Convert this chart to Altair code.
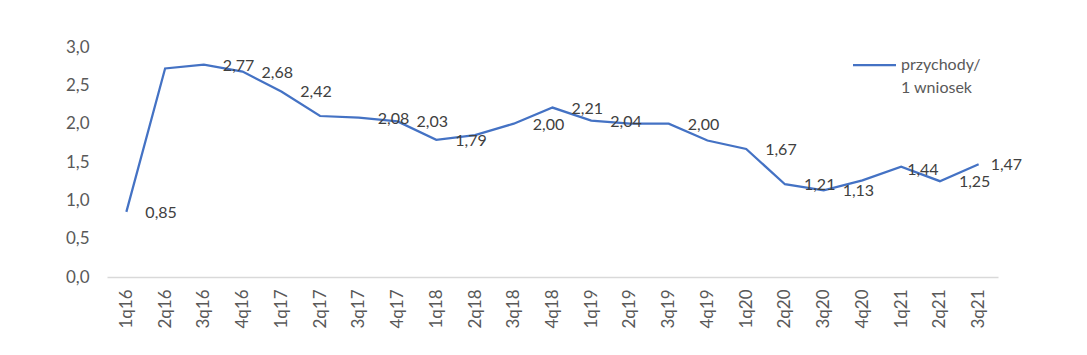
import altair as alt
import pandas as pd

quarters = ["1q16", "2q16", "3q16", "4q16", "1q17", "2q17", "3q17", "4q17",
            "1q18", "2q18", "3q18", "4q18", "1q19", "2q19", "3q19", "4q19",
            "1q20", "2q20", "3q20", "4q20", "1q21", "2q21", "3q21"]
values = [0.85, 2.72, 2.77, 2.68, 2.42, 2.10, 2.08, 2.03,
          1.79, 1.85, 2.00, 2.21, 2.04, 2.00, 2.00, 1.78,
          1.67, 1.21, 1.13, 1.26, 1.44, 1.25, 1.47]
# which points carry a data label, and how far right it sits
label_group = ["std", "", "std", "std", "std", "", "std", "std",
               "std", "", "std", "std", "std", "", "std", "",
               "std", "std", "std", "", "near", "std", "mid"]
y_ticks = [0.0, 0.5, 1.0, 1.5, 2.0, 2.5, 3.0]
legend_lines = ["przychody/", "1 wniosek"]

df = pd.DataFrame({"q": quarters, "v": values, "g": label_group})
df["lab"] = [f"{v:.2f}".replace(".", ",") for v in values]

FONT = "Lato"
LINE_COLOR = "#4472C4"

x_axis = alt.Axis(labelAngle=-90, ticks=False, grid=False,
                  domainColor="#d9d9d9", domainWidth=1.5,
                  labelColor="#595959", labelFont=FONT, labelFontSize=17,
                  labelPadding=12, labelOverlap=False)
y_axis = alt.Axis(values=y_ticks, tickCount=7, domain=False,
                  ticks=False, grid=False, labelColor="#595959",
                  labelFont=FONT, labelFontSize=17, labelPadding=18,
                  labelOverlap=False, labelFlush=False,
                  labelExpr="replace(format(datum.value, '.1f'), '.', ',')")
y_scale = alt.Scale(domain=[0, 3], nice=False, zero=True)

def X():
    return alt.X("q:N", sort=quarters, title=None, axis=x_axis)

def Y():
    return alt.Y("v:Q", title=None, scale=y_scale, axis=y_axis)

base = alt.Chart(df)
line = base.mark_line(color=LINE_COLOR, strokeWidth=2.25).encode(x=X(), y=Y())

def labels(group, dx, dy):
    return base.transform_filter(alt.datum.g == group).mark_text(
        align="left", baseline="middle", dx=dx, dy=dy,
        font=FONT, fontSize=16, color="#404040"
    ).encode(x=X(), y=Y(), text="lab:N")

t_std = labels("std", 19, 1)
t_near = labels("near", 6, 3)
t_mid = labels("mid", 12, 1)

leg_df = pd.DataFrame({"t": [legend_lines]})
leg_rule = alt.Chart(leg_df).mark_rule(color=LINE_COLOR, strokeWidth=2.25).encode(
    x=alt.value(746), x2=alt.value(789), y=alt.value(18))
leg_text = alt.Chart(leg_df).mark_text(
    align="left", baseline="middle", font=FONT, fontSize=16, color="#595959",
    lineHeight=22.5
).encode(x=alt.value(794), y=alt.value(18), text=alt.value(legend_lines))

chart = alt.layer(line, t_std, t_near, t_mid, leg_rule, leg_text).properties(
    width=891, height=230,
    autosize=alt.AutoSizeParams(type="none"),
    padding={"left": 107, "top": 47, "right": 89, "bottom": 78},
    background="white",
).configure_view(stroke=None)

chart.save("out.html", embed_options={"renderer": "svg", "actions": False})
